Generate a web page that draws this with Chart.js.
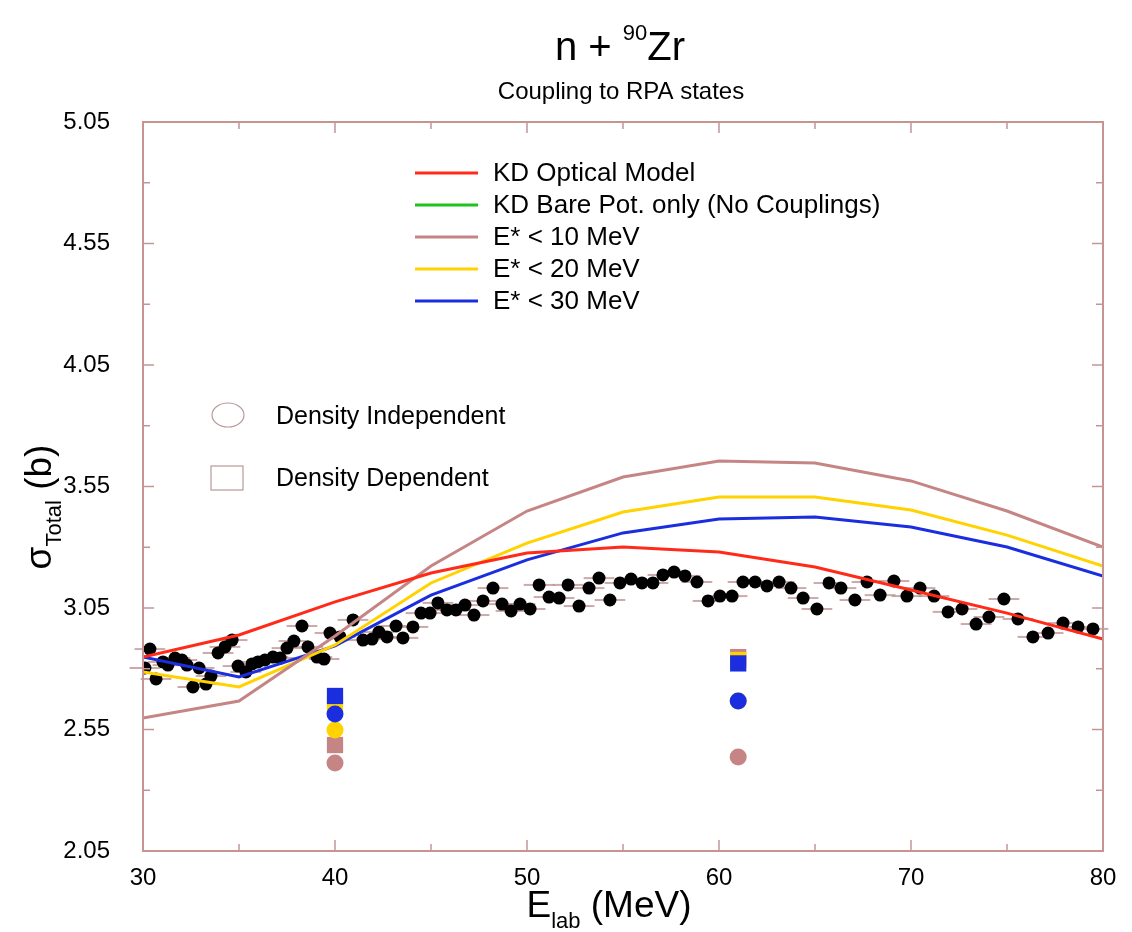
<!DOCTYPE html>
<html>
<head>
<meta charset="utf-8">
<script src="https://cdn.jsdelivr.net/npm/chart.js@4.4.1/dist/chart.umd.min.js"></script>
<style>
  html, body { margin: 0; padding: 0; background: #fff; }
</style>
</head>
<body>
<canvas id="sigma-chart" width="1132" height="932"></canvas>
<script>
// measured total cross sections (MeV, b)
const E_DATA = [30.10,30.36,30.68,31.04,31.30,31.67,32.03,32.29,32.60,32.92,33.28,33.54,33.91,34.27,34.64,34.95,
  35.36,35.68,35.99,36.35,36.77,37.14,37.50,37.86,38.28,38.59,39.06,39.43,39.74,40.26,40.94,41.46,41.93,42.29,
  42.71,43.18,43.54,44.06,44.48,44.95,45.36,45.83,46.30,46.77,47.24,47.71,48.23,48.70,49.17,49.64,50.16,50.63,
  51.15,51.67,52.14,52.71,53.23,53.75,54.32,54.84,55.42,55.99,56.56,57.08,57.66,58.23,58.85,59.43,60.05,60.68,
  61.25,61.88,62.50,63.13,63.75,64.38,65.10,65.73,66.35,67.08,67.71,68.39,69.11,69.79,70.47,71.20,71.93,72.66,
  73.39,74.06,74.84,75.57,76.35,77.14,77.92,78.70,79.48];
const SIG_DATA = [2.803,2.881,2.758,2.828,2.815,2.844,2.836,2.815,2.725,2.803,2.737,2.770,2.865,2.890,2.918,2.811,
  2.787,2.820,2.828,2.836,2.848,2.844,2.885,2.914,2.976,2.890,2.848,2.840,2.947,2.931,3.001,2.918,2.922,2.951,
  2.931,2.976,2.927,2.972,3.029,3.029,3.071,3.042,3.042,3.062,3.021,3.079,3.132,3.066,3.038,3.066,3.046,3.145,
  3.095,3.091,3.145,3.058,3.132,3.173,3.083,3.153,3.169,3.153,3.153,3.186,3.198,3.182,3.157,3.079,3.099,3.099,
  3.157,3.157,3.141,3.157,3.132,3.091,3.046,3.153,3.132,3.083,3.157,3.103,3.161,3.099,3.132,3.099,3.034,3.046,
  2.984,3.013,3.087,3.005,2.931,2.947,2.988,2.972,2.964];
const E_ERR = 0.8;

// calculated curves
const E_CURVE = [30, 35, 40, 45, 50, 55, 60, 65, 70, 75, 80];
const KD_OM   = [2.848, 2.939, 3.075, 3.194, 3.276, 3.301, 3.280, 3.219, 3.124, 3.029, 2.922];
const KD_BARE = [];
const EX_10   = [2.597, 2.667, 2.935, 3.223, 3.449, 3.589, 3.655, 3.647, 3.573, 3.449, 3.301];
const EX_20   = [2.787, 2.725, 2.898, 3.153, 3.317, 3.445, 3.507, 3.507, 3.453, 3.350, 3.223];
const EX_30   = [2.848, 2.766, 2.894, 3.103, 3.248, 3.359, 3.416, 3.424, 3.383, 3.301, 3.181];

// RPA coupling results
const E_RPA = [40, 61];
const DI_10 = [2.412, 2.437];
const DI_20 = [2.548, 2.667];
const DI_30 = [2.614, 2.667];
const DD_10 = [2.486, 2.848];
const DD_20 = [2.659, 2.836];
const DD_30 = [2.688, 2.822];

const X_TICKS = [30, 40, 50, 60, 70, 80];
const X_MINOR = [35, 45, 55, 65, 75];
const Y_TICKS = [2.05, 2.55, 3.05, 3.55, 4.05, 4.55, 5.05];
const Y_MINOR = [2.30, 2.80, 3.30, 3.80, 4.30, 4.80];

const RED = '#ff2a18', GREEN = '#1fc21f', BROWN = '#c68585', YELLOW = '#ffd200', BLUE = '#1a2ee0';
const FRAME = '#c79494';
const FONT = '"Liberation Sans", Arial, sans-serif';

const pts = (xs, ys) => ys.map((y, i) => ({ x: xs[i], y: y }));

function curve(label, color, ys) {
  return { label: label, data: pts(E_CURVE, ys), showLine: true, borderColor: color, backgroundColor: color,
    borderWidth: 3, pointRadius: 0, tension: 0, order: 5, isCurve: true };
}
function marker(color, ys, style, order) {
  return { label: '', data: pts(E_RPA, ys), showLine: false, backgroundColor: color, borderWidth: 0,
    pointStyle: style, pointRadius: style === 'rect' ? 11.5 : 8.5, order: order };
}

const decor = {
  id: 'decor',
  beforeDatasetsDraw(chart) {
    const ctx = chart.ctx, x = chart.scales.x, y = chart.scales.y;
    ctx.save();
    ctx.strokeStyle = 'rgba(190,140,140,0.75)';
    ctx.lineWidth = 2;
    E_DATA.forEach((e, i) => {
      const py = y.getPixelForValue(SIG_DATA[i]);
      ctx.beginPath();
      ctx.moveTo(x.getPixelForValue(e - E_ERR), py);
      ctx.lineTo(x.getPixelForValue(e + E_ERR), py);
      ctx.stroke();
    });
    ctx.restore();
  },
  afterDraw(chart) {
    const ctx = chart.ctx, a = chart.chartArea, x = chart.scales.x, y = chart.scales.y;
    ctx.save();
    // frame and inward ticks
    ctx.strokeStyle = FRAME;
    ctx.lineWidth = 2;
    ctx.strokeRect(a.left, a.top, a.right - a.left, a.bottom - a.top);
    ctx.lineWidth = 1.5;
    const tick = (px, py, dx, dy) => { ctx.beginPath(); ctx.moveTo(px, py); ctx.lineTo(px + dx, py + dy); ctx.stroke(); };
    X_TICKS.concat(X_MINOR).forEach(v => {
      const px = x.getPixelForValue(v), len = X_TICKS.includes(v) ? 11 : 7;
      tick(px, a.bottom, 0, -len); tick(px, a.top, 0, len);
    });
    Y_TICKS.concat(Y_MINOR).forEach(v => {
      const py = y.getPixelForValue(v), len = Y_TICKS.includes(v) ? 11 : 7;
      tick(a.left, py, len, 0); tick(a.right, py, -len, 0);
    });

    ctx.fillStyle = '#000';
    ctx.textBaseline = 'alphabetic';
    // title with superscript
    ctx.font = '40px ' + FONT;
    const w1 = ctx.measureText('n + ').width, w3 = ctx.measureText('Zr').width;
    ctx.font = '22px ' + FONT;
    const w2 = ctx.measureText('90').width;
    let tx = 620 - (w1 + w2 + w3) / 2;
    ctx.font = '40px ' + FONT; ctx.textAlign = 'left';
    ctx.fillText('n + ', tx, 60);
    ctx.font = '22px ' + FONT; ctx.fillText('90', tx + w1, 40);
    ctx.font = '40px ' + FONT; ctx.fillText('Zr', tx + w1 + w2, 60);
    // subtitle
    ctx.font = '24px ' + FONT; ctx.textAlign = 'center';
    ctx.fillText('Coupling to RPA states', 621, 99);

    // x axis title
    ctx.font = '37px ' + FONT;
    const e1 = ctx.measureText('E').width, e3 = ctx.measureText(' (MeV)').width;
    ctx.font = '22px ' + FONT;
    const e2 = ctx.measureText('lab').width;
    tx = 609 - (e1 + e2 + e3) / 2;
    ctx.textAlign = 'left';
    ctx.font = '37px ' + FONT; ctx.fillText('E', tx, 917);
    ctx.font = '22px ' + FONT; ctx.fillText('lab', tx + e1, 928);
    ctx.font = '37px ' + FONT; ctx.fillText(' (MeV)', tx + e1 + e2, 917);

    // y axis title, rotated
    ctx.save();
    ctx.translate(51, 507);
    ctx.rotate(-Math.PI / 2);
    ctx.font = '37px ' + FONT;
    const s1 = ctx.measureText('\u03c3').width, s3 = ctx.measureText(' (b)').width;
    ctx.font = '22px ' + FONT;
    const s2 = ctx.measureText('Total').width;
    tx = -(s1 + s2 + s3) / 2;
    ctx.font = '37px ' + FONT; ctx.fillText('\u03c3', tx, 0);
    ctx.font = '22px ' + FONT; ctx.fillText('Total', tx + s1, 10);
    ctx.font = '37px ' + FONT; ctx.fillText(' (b)', tx + s1 + s2, 0);
    ctx.restore();

    // curve legend
    ctx.font = '26px ' + FONT; ctx.textBaseline = 'middle'; ctx.textAlign = 'left';
    chart.data.datasets.filter(d => d.isCurve).forEach((d, i) => {
      const ly = 173 + i * 32;
      ctx.strokeStyle = d.borderColor; ctx.lineWidth = 3;
      ctx.beginPath(); ctx.moveTo(415, ly); ctx.lineTo(478, ly); ctx.stroke();
      ctx.fillStyle = '#000';
      ctx.fillText(d.label, 493, ly + 1);
    });
    // symbol legend
    ctx.strokeStyle = '#b89a9a'; ctx.lineWidth = 1.2;
    ctx.beginPath(); ctx.ellipse(228, 415, 16, 12, 0, 0, Math.PI * 2); ctx.stroke();
    ctx.strokeRect(211, 466, 32, 24);
    ctx.font = '25px ' + FONT;
    ctx.fillText('Density Independent', 276, 417);
    ctx.fillText('Density Dependent', 276, 479);
    ctx.restore();
  }
};

new Chart(document.getElementById('sigma-chart'), {
  type: 'scatter',
  data: {
    datasets: [
      marker(BLUE, DD_30, 'rect', 1),
      marker(BLUE, DI_30, 'circle', 1),
      marker(YELLOW, DI_20, 'circle', 2),
      marker(YELLOW, DD_20, 'rect', 2),
      marker(BROWN, DD_10, 'rect', 3),
      marker(BROWN, DI_10, 'circle', 3),
      curve('KD Optical Model', RED, KD_OM),
      curve('KD Bare Pot. only (No Couplings)', GREEN, KD_BARE),
      curve('E* < 10 MeV', BROWN, EX_10),
      curve('E* < 20 MeV', YELLOW, EX_20),
      curve('E* < 30 MeV', BLUE, EX_30),
      { label: 'data', data: pts(E_DATA, SIG_DATA), showLine: false, backgroundColor: '#000',
        borderWidth: 0, pointRadius: 6.5, order: 8 }
    ]
  },
  options: {
    responsive: false,
    animation: false,
    devicePixelRatio: 1,
    layout: { padding: { top: 122, right: 29, bottom: 0, left: 0 } },
    plugins: { legend: { display: false }, tooltip: { enabled: false } },
    scales: {
      x: {
        type: 'linear', min: 30, max: 80,
        afterBuildTicks: s => { s.ticks = X_TICKS.map(v => ({ value: v })); },
        afterFit: s => { s.height = 81; },
        grid: { display: false }, border: { display: false },
        ticks: { color: '#000', padding: 5, maxRotation: 0, font: { family: FONT, size: 24 } }
      },
      y: {
        type: 'linear', min: 2.05, max: 5.05,
        afterBuildTicks: s => { s.ticks = Y_TICKS.map(v => ({ value: v })); },
        afterFit: s => { s.width = 143; },
        grid: { display: false }, border: { display: false },
        ticks: { color: '#000', padding: 25, font: { family: FONT, size: 24 },
          callback: v => v.toFixed(2) }
      }
    }
  },
  plugins: [decor]
});
</script>
</body>
</html>
